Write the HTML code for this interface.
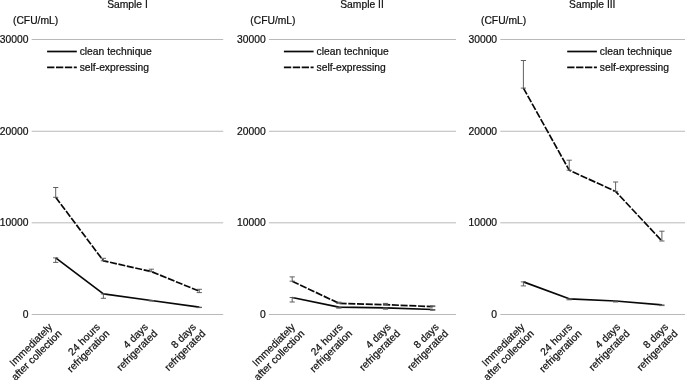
<!DOCTYPE html>
<html><head><meta charset="utf-8"><title>Samples</title>
<style>
html,body{margin:0;padding:0;background:#fff}
#c{position:relative;width:685px;height:380px;overflow:hidden;background:#fff;font-family:"Liberation Sans",Arial,sans-serif;font-size:10.3px;color:#1a1a1a}
svg{position:absolute;left:0;top:0;will-change:transform}
svg text{font-family:"Liberation Sans",Arial,sans-serif;font-size:10.3px;fill:#111;stroke:#111;stroke-width:0.22px}
</style></head><body>
<div id="c">
<svg width="685" height="380" viewBox="0 0 685 380">
<line x1="31.7" y1="314.50" x2="223.2" y2="314.50" stroke="#b9b9b9" stroke-width="1"/>
<text x="28.5" y="318.10" text-anchor="end">0</text>
<line x1="31.7" y1="222.82" x2="223.2" y2="222.82" stroke="#b9b9b9" stroke-width="1"/>
<text x="28.5" y="226.42" text-anchor="end">10000</text>
<line x1="31.7" y1="131.25" x2="223.2" y2="131.25" stroke="#b9b9b9" stroke-width="1"/>
<text x="28.5" y="134.85" text-anchor="end">20000</text>
<line x1="31.7" y1="39.50" x2="223.2" y2="39.50" stroke="#b9b9b9" stroke-width="1"/>
<text x="28.5" y="43.10" text-anchor="end">30000</text>
<text x="127.5" y="7.7" text-anchor="middle">Sample I</text>
<text x="13" y="24" >(CFU/mL)</text>
<line x1="47.1" y1="51.5" x2="76.8" y2="51.5" stroke="#080808" stroke-width="1.7"/>
<line x1="47.1" y1="67.35" x2="76.8" y2="67.35" stroke="#080808" stroke-width="1.7" stroke-dasharray="7.3 1.6"/>
<text x="79.7" y="55">clean technique</text>
<text x="79.7" y="71">self-expressing</text>
<polyline points="55.7,197.3 103.4,260.8 151.3,271.6 199.3,291.2" fill="none" stroke="#080808" stroke-width="1.7" stroke-dasharray="7.0 1.62" stroke-linejoin="round"/>
<polyline points="55.7,257.9 103.4,293.9 151.3,300.5 199.3,307.2" fill="none" stroke="#080808" stroke-width="1.7" stroke-linejoin="round"/>
<path d="M55.7 197.3V187.5M53.1 197.3h5.2M53.1 187.5h5.2" stroke="#595959" stroke-width="0.95" fill="none"/>
<path d="M55.7 257.9V262.4M53.1 257.9h5.2M53.1 262.4h5.2" stroke="#595959" stroke-width="0.95" fill="none"/>
<path d="M103.4 260.8V258.3M100.8 260.8h5.2M100.8 258.3h5.2" stroke="#595959" stroke-width="0.95" fill="none"/>
<path d="M103.4 293.9V298.3M100.8 293.9h5.2M100.8 298.3h5.2" stroke="#595959" stroke-width="0.95" fill="none"/>
<path d="M151.3 271.6V269.2M148.7 271.6h5.2M148.7 269.2h5.2" stroke="#595959" stroke-width="0.95" fill="none"/>
<path d="M151.3 300.5V301.0M148.7 300.5h5.2M148.7 301.0h5.2" stroke="#595959" stroke-width="0.95" fill="none"/>
<path d="M199.3 292.6V289.3M196.7 292.6h5.2M196.7 289.3h5.2" stroke="#595959" stroke-width="0.95" fill="none"/>
<path d="M199.3 307.2V307.6M196.7 307.2h5.2M196.7 307.6h5.2" stroke="#595959" stroke-width="0.95" fill="none"/>
<g transform="translate(56.1 327.9) rotate(-45)"><text text-anchor="end" x="-2" y="-2.4">Immediately</text><text text-anchor="end" x="0" y="8.87">after collection</text></g>
<g transform="translate(103.8 327.9) rotate(-45)"><text text-anchor="end" x="-2" y="-2.4">24 hours</text><text text-anchor="end" x="0" y="8.87">refrigeration</text></g>
<g transform="translate(151.7 327.9) rotate(-45)"><text text-anchor="end" x="-2" y="-2.4">4 days</text><text text-anchor="end" x="0" y="8.87">refrigerated</text></g>
<g transform="translate(199.7 327.9) rotate(-45)"><text text-anchor="end" x="-2" y="-2.4">8 days</text><text text-anchor="end" x="0" y="8.87">refrigerated</text></g>
<line x1="268.9" y1="314.50" x2="456.0" y2="314.50" stroke="#b9b9b9" stroke-width="1"/>
<text x="265.7" y="318.10" text-anchor="end">0</text>
<line x1="268.9" y1="222.82" x2="456.0" y2="222.82" stroke="#b9b9b9" stroke-width="1"/>
<text x="265.7" y="226.42" text-anchor="end">10000</text>
<line x1="268.9" y1="131.25" x2="456.0" y2="131.25" stroke="#b9b9b9" stroke-width="1"/>
<text x="265.7" y="134.85" text-anchor="end">20000</text>
<line x1="268.9" y1="39.50" x2="456.0" y2="39.50" stroke="#b9b9b9" stroke-width="1"/>
<text x="265.7" y="43.10" text-anchor="end">30000</text>
<text x="362" y="7.7" text-anchor="middle">Sample II</text>
<text x="250.3" y="24" >(CFU/mL)</text>
<line x1="283.9" y1="51.5" x2="313.6" y2="51.5" stroke="#080808" stroke-width="1.7"/>
<line x1="283.9" y1="67.35" x2="313.6" y2="67.35" stroke="#080808" stroke-width="1.7" stroke-dasharray="7.3 1.6"/>
<text x="316.5" y="55">clean technique</text>
<text x="316.5" y="71">self-expressing</text>
<polyline points="292.2,281.2 338.9,303.3 385.5,304.7 432.7,306.6" fill="none" stroke="#080808" stroke-width="1.7" stroke-dasharray="7.1 1.62" stroke-linejoin="round"/>
<polyline points="292.2,297.5 338.9,307.2 385.5,307.9 432.7,309.5" fill="none" stroke="#080808" stroke-width="1.7" stroke-linejoin="round"/>
<path d="M292.2 281.2V276.9M289.6 281.2h5.2M289.6 276.9h5.2" stroke="#595959" stroke-width="0.95" fill="none"/>
<path d="M292.2 297.5V302.0M289.6 297.5h5.2M289.6 302.0h5.2" stroke="#595959" stroke-width="0.95" fill="none"/>
<path d="M338.9 303.3V302.2M336.3 303.3h5.2M336.3 302.2h5.2" stroke="#595959" stroke-width="0.95" fill="none"/>
<path d="M338.9 307.2V308.2M336.3 307.2h5.2M336.3 308.2h5.2" stroke="#595959" stroke-width="0.95" fill="none"/>
<path d="M385.5 304.7V303.4M382.9 304.7h5.2M382.9 303.4h5.2" stroke="#595959" stroke-width="0.95" fill="none"/>
<path d="M385.5 307.9V309.2M382.9 307.9h5.2M382.9 309.2h5.2" stroke="#595959" stroke-width="0.95" fill="none"/>
<path d="M432.7 306.6V305.8M430.1 306.6h5.2M430.1 305.8h5.2" stroke="#595959" stroke-width="0.95" fill="none"/>
<path d="M432.7 309.5V310.3M430.1 309.5h5.2M430.1 310.3h5.2" stroke="#595959" stroke-width="0.95" fill="none"/>
<g transform="translate(298.8 327.9) rotate(-45)"><text text-anchor="end" x="-2" y="-2.4">Immediately</text><text text-anchor="end" x="0" y="8.87">after collection</text></g>
<g transform="translate(346.5 327.9) rotate(-45)"><text text-anchor="end" x="-2" y="-2.4">24 hours</text><text text-anchor="end" x="0" y="8.87">refrigeration</text></g>
<g transform="translate(394.4 327.9) rotate(-45)"><text text-anchor="end" x="-2" y="-2.4">4 days</text><text text-anchor="end" x="0" y="8.87">refrigerated</text></g>
<g transform="translate(442.4 327.9) rotate(-45)"><text text-anchor="end" x="-2" y="-2.4">8 days</text><text text-anchor="end" x="0" y="8.87">refrigerated</text></g>
<line x1="500.3" y1="314.50" x2="686" y2="314.50" stroke="#b9b9b9" stroke-width="1"/>
<text x="497.1" y="318.10" text-anchor="end">0</text>
<line x1="500.3" y1="222.82" x2="686" y2="222.82" stroke="#b9b9b9" stroke-width="1"/>
<text x="497.1" y="226.42" text-anchor="end">10000</text>
<line x1="500.3" y1="131.25" x2="686" y2="131.25" stroke="#b9b9b9" stroke-width="1"/>
<text x="497.1" y="134.85" text-anchor="end">20000</text>
<line x1="500.3" y1="39.50" x2="686" y2="39.50" stroke="#b9b9b9" stroke-width="1"/>
<text x="497.1" y="43.10" text-anchor="end">30000</text>
<text x="592.3" y="7.7" text-anchor="middle">Sample III</text>
<text x="481" y="24" >(CFU/mL)</text>
<line x1="567.2" y1="51.5" x2="596.9" y2="51.5" stroke="#080808" stroke-width="1.7"/>
<line x1="567.2" y1="67.35" x2="596.9" y2="67.35" stroke="#080808" stroke-width="1.7" stroke-dasharray="7.3 1.6"/>
<text x="599.8" y="55">clean technique</text>
<text x="599.8" y="71">self-expressing</text>
<polyline points="523.4,88.1 569.2,170.2 615.6,191.4 661.9,241.0" fill="none" stroke="#080808" stroke-width="1.7" stroke-dasharray="7.25 1.63" stroke-linejoin="round"/>
<polyline points="523.4,281.9 569.2,298.8 615.6,301.0 661.9,304.9" fill="none" stroke="#080808" stroke-width="1.7" stroke-linejoin="round"/>
<path d="M523.4 88.1V60.5M520.8 88.1h5.2M520.8 60.5h5.2" stroke="#595959" stroke-width="0.95" fill="none"/>
<path d="M523.4 281.9V285.9M520.8 281.9h5.2M520.8 285.9h5.2" stroke="#595959" stroke-width="0.95" fill="none"/>
<path d="M569.2 170.2V160.2M566.6 170.2h5.2M566.6 160.2h5.2" stroke="#595959" stroke-width="0.95" fill="none"/>
<path d="M569.2 298.8V299.8M566.6 298.8h5.2M566.6 299.8h5.2" stroke="#595959" stroke-width="0.95" fill="none"/>
<path d="M615.6 191.4V182.0M613.0 191.4h5.2M613.0 182.0h5.2" stroke="#595959" stroke-width="0.95" fill="none"/>
<path d="M615.6 301.0V302.0M613.0 301.0h5.2M613.0 302.0h5.2" stroke="#595959" stroke-width="0.95" fill="none"/>
<path d="M661.9 241.0V231.2M659.3 241.0h5.2M659.3 231.2h5.2" stroke="#595959" stroke-width="0.95" fill="none"/>
<path d="M661.9 304.9V305.6M659.3 304.9h5.2M659.3 305.6h5.2" stroke="#595959" stroke-width="0.95" fill="none"/>
<g transform="translate(528.3 327.9) rotate(-45)"><text text-anchor="end" x="-2" y="-2.4">Immediately</text><text text-anchor="end" x="0" y="8.87">after collection</text></g>
<g transform="translate(576.0 327.9) rotate(-45)"><text text-anchor="end" x="-2" y="-2.4">24 hours</text><text text-anchor="end" x="0" y="8.87">refrigeration</text></g>
<g transform="translate(623.9 327.9) rotate(-45)"><text text-anchor="end" x="-2" y="-2.4">4 days</text><text text-anchor="end" x="0" y="8.87">refrigerated</text></g>
<g transform="translate(671.9 327.9) rotate(-45)"><text text-anchor="end" x="-2" y="-2.4">8 days</text><text text-anchor="end" x="0" y="8.87">refrigerated</text></g>
</svg>

</div>
</body></html>
